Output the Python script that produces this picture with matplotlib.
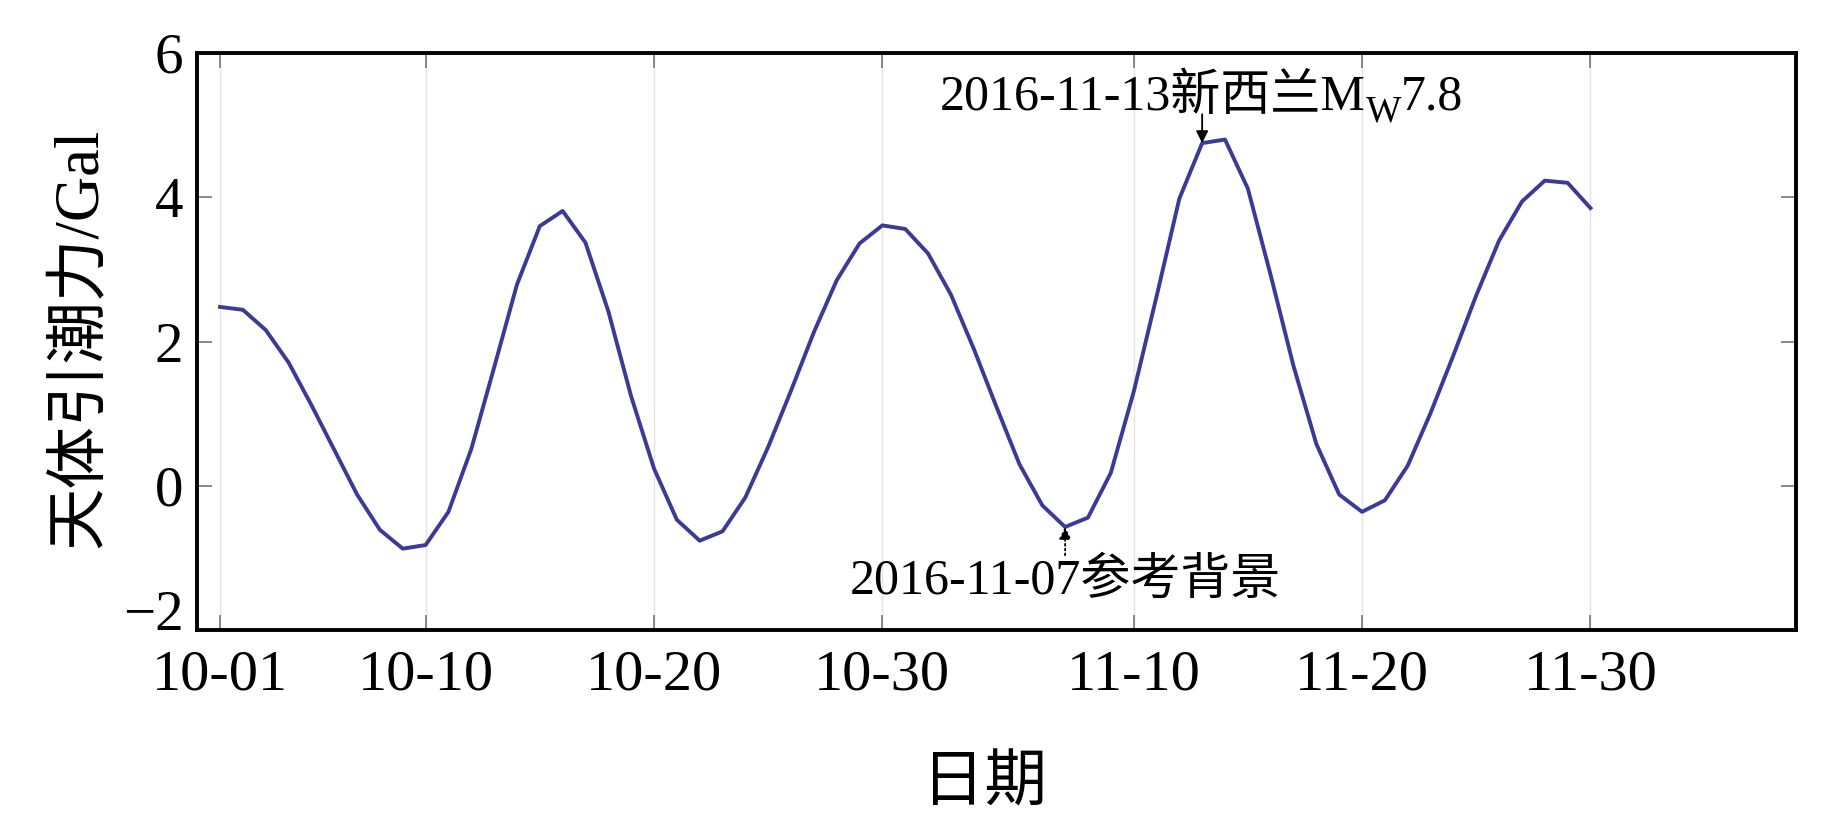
import numpy as np
import pandas as pd
import matplotlib
matplotlib.use('Agg')
import matplotlib.pyplot as plt
import matplotlib.dates as mdates

plt.rcParams['font.family'] = ['Liberation Serif', 'Noto Sans CJK SC']

# 每日天体引潮力 (2016-10-01 ~ 2016-11-30)
datas = pd.date_range('2016-10-01', '2016-11-30', freq='D')
valores = [
    2.48, 2.44, 2.16, 1.71, 1.12, 0.50, -0.12, -0.61, -0.87, -0.82,
    -0.36, 0.51, 1.64, 2.79, 3.60, 3.81, 3.37, 2.42, 1.24, 0.24,
    -0.47, -0.76, -0.63, -0.16, 0.54, 1.32, 2.13, 2.85, 3.36, 3.61,
    3.56, 3.22, 2.65, 1.90, 1.09, 0.30, -0.27, -0.57, -0.44, 0.18,
    1.30, 2.62, 3.98, 4.75, 4.80, 4.12, 2.92, 1.66, 0.58, -0.12,
    -0.36, -0.20, 0.28, 1.01, 1.81, 2.64, 3.40, 3.94, 4.23, 4.20,
    3.85,
]
ticks_x = ['2016-10-01', '2016-10-10', '2016-10-20', '2016-10-30',
           '2016-11-10', '2016-11-20', '2016-11-30']
ticks_y = [-2, 0, 2, 4, 6]

evento = pd.Timestamp('2016-11-13')
referencia = pd.Timestamp('2016-11-07')
i_ev = list(datas).index(evento)
i_ref = list(datas).index(referencia)

fig = plt.figure(figsize=(18.43, 8.27), dpi=100)
ax = fig.add_axes([0.107, 0.238, 0.8675, 0.698])

ax.plot(datas, valores, color='#3b3a96', linewidth=2.8, zorder=3)

ax.set_xlim(pd.Timestamp('2016-09-30'), pd.Timestamp('2016-12-09'))
ax.set_ylim(-2, 6)
ax.set_xticks(pd.to_datetime(ticks_x))
ax.xaxis.set_major_formatter(mdates.DateFormatter('%m-%d'))
ax.set_yticks(ticks_y)

ax.grid(True, axis='x', color='#e6e2e4', linewidth=1.0)
ax.tick_params(axis='both', direction='in', color='#777777', width=1.2,
               length=11, top=True, right=True)
ax.tick_params(axis='x', labelsize=42, pad=14)
ax.tick_params(axis='y', labelsize=41, pad=10)
for s in ax.spines.values():
    s.set_linewidth(2.8)
    s.set_color('black')

# -2 的刻度标签略微上移, 避免与 10-01 重叠
ax.get_yticklabels()[0].set_va('baseline')

ax.set_ylabel('天体引潮力/Gal', fontsize=45, va='center')
ax.yaxis.set_label_coords(-0.072, 0.507)
ax.set_xlabel('日期', fontsize=45, va='center')
ax.xaxis.set_label_coords(0.4926, -0.269)

# 标注: 2016-11-13 新西兰 Mw7.8
x_txt = pd.Timestamp('2016-10-01') + pd.Timedelta(days=31.5)
y_base = 5.21
t1 = ax.text(x_txt, y_base, '2016-11-13新西兰M', fontsize=36,
             ha='left', va='baseline')
t2 = ax.annotate('W', xy=(1, y_base), xycoords=(t1, 'data'),
                 xytext=(0, -8), textcoords='offset points',
                 fontsize=27, ha='left', va='baseline')
t3 = ax.annotate('7.8', xy=(1, y_base), xycoords=(t2, 'data'),
                 fontsize=36, ha='left', va='baseline')
ax.annotate('', xy=(datas[i_ev], valores[i_ev]), xytext=(datas[i_ev], 5.15),
            arrowprops=dict(arrowstyle='-|>', color='black', lw=1.3,
                            mutation_scale=18, shrinkA=0, shrinkB=0))

# 标注: 2016-11-07 参考背景
ax.annotate('2016-11-07参考背景',
            xy=(datas[i_ref], valores[i_ref]), xytext=(datas[i_ref], -1.0),
            fontsize=36, ha='center', va='top',
            arrowprops=dict(arrowstyle='-|>', color='black', lw=1.3,
                            linestyle=':', mutation_scale=18,
                            shrinkA=0, shrinkB=0))

fig.savefig('out.png', dpi=100)
